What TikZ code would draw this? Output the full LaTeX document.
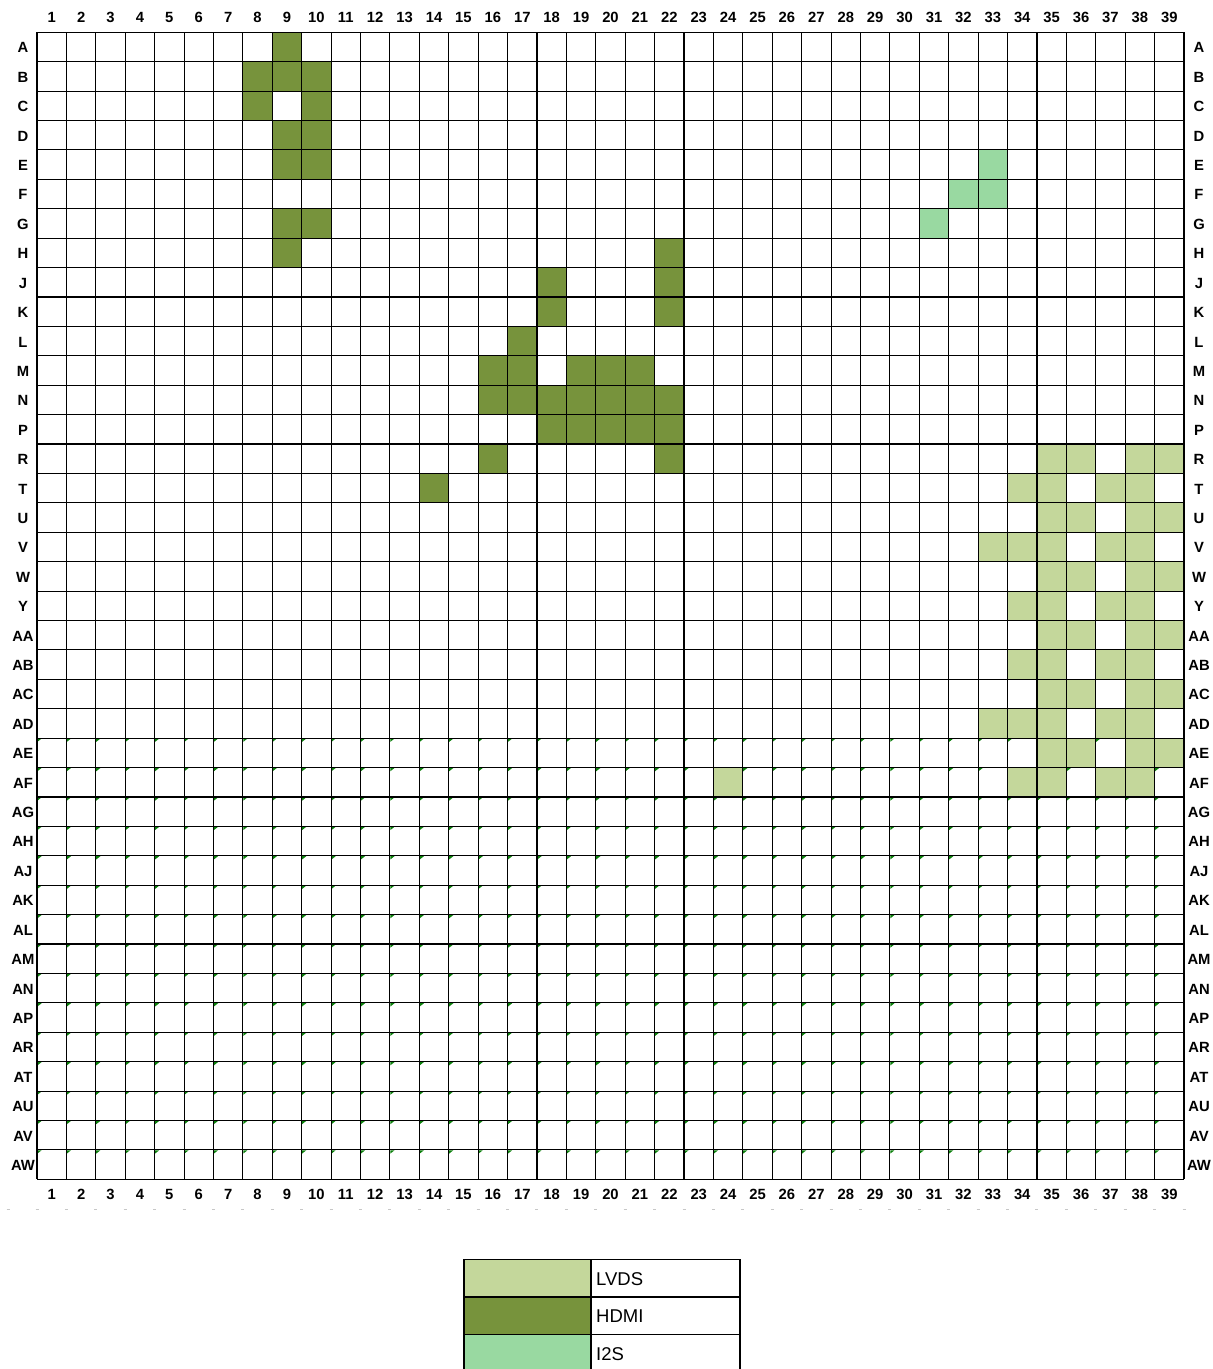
\documentclass[tikz,border=0pt]{standalone}
\usepackage{fontspec}
\setmainfont{Liberation Sans}
\definecolor{lvds}{HTML}{C4D79B}
\definecolor{hdmi}{HTML}{77933C}
\definecolor{iis}{HTML}{99D9A1}
\definecolor{tickgreen}{HTML}{0A800A}
\tikzset{
  lab/.style={font=\fontsize{14.8}{17}\selectfont\bfseries, inner sep=0pt},
  gridline/.style={line width=1.1pt, black},
  swatch/.style={draw=black, line width=1.2pt, minimum width=127pt, minimum height=37.5pt, inner sep=0pt, outer sep=0pt},
  textcell/.style={draw=black, line width=1.2pt, minimum width=149pt, minimum height=37.5pt, inner sep=0pt, outer sep=0pt},
  legtext/.style={font=\fontsize{18.5}{22}\selectfont, anchor=west, inner sep=0pt}
}
\newcommand{\cs}{29.41}
\newcommand{\ox}{37}
\newcommand{\oy}{32.3}
\newcommand{\pincell}[3]{\fill[#3] ({\ox+(#1-1)*\cs},{\oy+(#2-1)*\cs}) rectangle ++(\cs,\cs);}
\begin{document}
\begin{tikzpicture}[x=1pt,y=-1pt]
\useasboundingbox (0,0) rectangle (1213,1369);
\fill[white] (0,0) rectangle (1213,1369);
% small corner ticks (rows AE..AW)
\foreach \r in {25,...,39}{
  \foreach \c in {1,...,39}{
    \fill[tickgreen] ({\ox+(\c-1)*\cs+0.4},{\oy+(\r-1)*\cs+0.4}) -- ++(4.2,0) -- ++(-4.2,3.3) -- cycle;
  }
}
% HDMI
\foreach \c/\r in {9/1, 8/2,9/2,10/2, 8/3,10/3, 9/4,10/4, 9/5,10/5, 9/7,10/7, 9/8,22/8,
  18/9,22/9, 18/10,22/10, 17/11, 16/12,17/12,19/12,20/12,21/12,
  16/13,17/13,18/13,19/13,20/13,21/13,22/13, 18/14,19/14,20/14,21/14,22/14,
  16/15,22/15, 14/16}{\pincell{\c}{\r}{hdmi}}
% I2S
\foreach \c/\r in {33/5, 32/6,33/6, 31/7}{\pincell{\c}{\r}{iis}}
% LVDS
\foreach \r in {15,17,19,21,23,25}{\foreach \c in {35,36,38,39}{\pincell{\c}{\r}{lvds}}}
\foreach \r in {16,20,22,26}{\foreach \c in {34,35,37,38}{\pincell{\c}{\r}{lvds}}}
\foreach \r in {18,24}{\foreach \c in {33,34,35,37,38}{\pincell{\c}{\r}{lvds}}}
\pincell{24}{26}{lvds}
% grid lines
\foreach \k in {0,...,39}{
  \draw[gridline] ({\ox+\k*\cs},\oy) -- ({\ox+\k*\cs},{\oy+39*\cs});
  \draw[gridline] (\ox,{\oy+\k*\cs}) -- ({\ox+39*\cs},{\oy+\k*\cs});
}
% column labels
\foreach \c in {1,...,39}{
  \node[lab] (top\c) at ({\ox+(\c-0.5)*\cs},17.8) {\c};
  \node[lab] (bot\c) at ({\ox+(\c-0.5)*\cs},1194) {\c};
}
% row labels
\foreach \r [count=\i] in {A,B,C,D,E,F,G,H,J,K,L,M,N,P,R,T,U,V,W,Y,AA,AB,AC,AD,AE,AF,AG,AH,AJ,AK,AL,AM,AN,AP,AR,AT,AU,AV,AW}{
  \node[lab] (left\r) at (23,{\oy+(\i-0.5)*\cs+0.8}) {\r};
  \node[lab] (right\r) at (1199,{\oy+(\i-0.5)*\cs+0.8}) {\r};
}
% faint dashes below
\foreach \k in {0,...,39}{
  \draw[black!22, line width=0.8pt] ({\ox+\k*\cs-1.5},1209.5) -- ++(3,0);
}
\draw[black!22, line width=0.8pt] (6.5,1209.5) -- ++(3,0);
% legend
\node[swatch, fill=lvds] (swL) at (527.5,1278.2) {};
\node[textcell, fill=white] (tL) at (665.5,1278.2) {};
\node[legtext] (txL) at (596,1278.8) {LVDS};
\node[swatch, fill=hdmi] (swH) at (527.5,1315.7) {};
\node[textcell, fill=white] (tH) at (665.5,1315.7) {};
\node[legtext] (txH) at (596,1316.3) {HDMI};
\node[swatch, fill=iis] (swI) at (527.5,1353.2) {};
\node[textcell, fill=white] (tI) at (665.5,1353.2) {};
\node[legtext] (txI) at (596,1353.8) {I2S};
\end{tikzpicture}
\end{document}
